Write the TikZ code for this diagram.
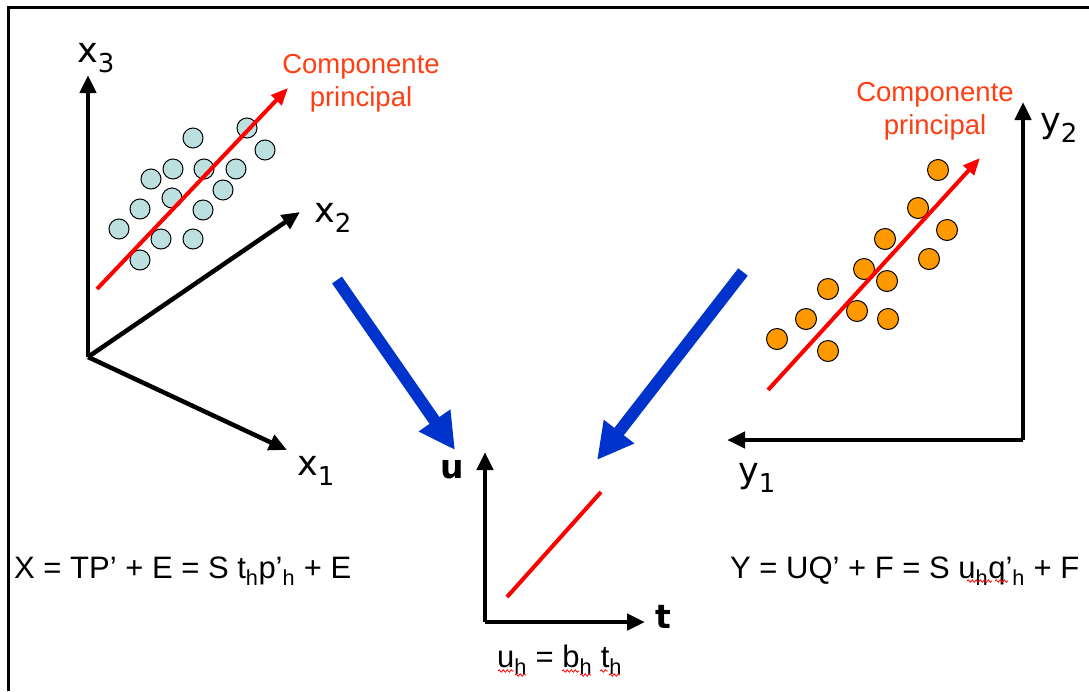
\documentclass[tikz,border=0pt]{standalone}
\usepackage{fontspec}
\setmainfont{Liberation Sans}
\newfontfamily\labfont{DejaVu Sans}
\usetikzlibrary{positioning,arrows.meta,decorations.pathmorphing}

\definecolor{pcred}{RGB}{255,62,20}
\definecolor{dotcyan}{RGB}{188,224,224}
\definecolor{dotorange}{RGB}{255,153,0}
\definecolor{bigblue}{RGB}{0,51,204}

% axis label with lowered index
\newcommand{\axlab}[2]{#1\raisebox{-10pt}{\fontsize{26}{26}\selectfont #2}}

\begin{document}
\begin{tikzpicture}[x=1pt, y=-1pt,
    axis/.style={line width=4.5pt, -{Triangle[length=18pt,width=16pt]}},
    pc/.style={draw=red, line width=4pt, -{Triangle[length=17pt,width=14pt]}},
    bigarrow/.style={draw=bigblue, line width=12pt, -{Triangle[length=36pt,width=36pt]}},
    cdot/.style={circle, draw, line width=1pt, inner sep=0pt, minimum size=20pt, fill=dotcyan},
    odot/.style={circle, draw, line width=1pt, inner sep=0pt, minimum size=21pt, fill=dotorange},
    axlabel/.style={anchor=base west, inner sep=0pt, font=\labfont\fontsize{35}{35}\selectfont},
    pctext/.style={align=center, text=pcred, inner sep=0pt, font=\fontsize{27.5}{33}\selectfont},
    eq/.style={anchor=base west, inner sep=0pt, font=\fontsize{31}{31}\selectfont},
    squig/.style={draw=red, line width=0.8pt, decorate, decoration={snake, amplitude=1.2pt, segment length=4pt}}]
    \useasboundingbox (0,0) rectangle (1089,691);
    \fill[white] (0,0) rectangle (1089,691);
    \draw[line width=3pt] (8,691) -- (8,7) -- (1089,7);

    % X block
    \coordinate (oX) at (88,357);
    \coordinate (x1tip) at (287,450);
    \coordinate (x2tip) at (300,212);
    \coordinate (x3tip) at (88,75);
    \draw[axis] (oX) -- (x1tip);
    \draw[axis] (oX) -- (x2tip);
    \draw[axis] (oX) -- (x3tip);
    \node[axlabel] (lblx1) at (297,475) {\axlab{x}{1}};
    \node[axlabel] (lblx2) at (314,222) {\axlab{x}{2}};
    \node[axlabel] (lblx3) at (77,62) {\axlab{x}{3}};
    \foreach \px/\py [count=\i] in {193/138, 247/128, 265/150, 173/169, 204/169, 236/169,
        151/179, 223/190, 172/198, 140/209, 203/210, 119/229, 161/239, 193/239, 140/260}
      \node[cdot] (c\i) at (\px,\py) {};
    \coordinate (pcX0) at (97,289);
    \coordinate (pcX1) at (288,88);
    \draw[pc] (pcX0) -- (pcX1);
    \node[pctext] (pcleft) at (361,83) {Componente\\principal};

    % Y block
    \coordinate (oY) at (1023,440);
    \coordinate (y1tip) at (727,440);
    \coordinate (y2tip) at (1023,102);
    \draw[axis] (oY) -- (y1tip);
    \draw[axis] (oY) -- (y2tip);
    \node[axlabel] (lbly1) at (738,482) {\axlab{y}{1}};
    \node[axlabel] (lbly2) at (1040,132) {\axlab{y}{2}};
    \foreach \px/\py [count=\i] in {938/170, 918/208, 947/230, 885/239, 929/259, 864/269, 887/281,
        828/289, 857/311, 888/319, 806/319, 777/339, 828/351}
      \node[odot] (o\i) at (\px,\py) {};
    \coordinate (pcY0) at (768,390);
    \coordinate (pcY1) at (980,158);
    \draw[pc] (pcY0) -- (pcY1);
    \node[pctext] (pcright) at (935,111) {Componente\\principal};

    % inner relation
    \coordinate (oU) at (485,622);
    \coordinate (utip) at (485,452);
    \coordinate (ttip) at (645,622);
    \draw[axis] (oU) -- (utip);
    \draw[axis] (oU) -- (ttip);
    \node[axlabel, font=\labfont\bfseries\fontsize{33}{33}\selectfont] (lblu) at (440,478) {u};
    \node[axlabel, font=\labfont\bfseries\fontsize{33}{33}\selectfont] (lblt) at (655,628) {t};
    \coordinate (fit0) at (507,597);
    \coordinate (fit1) at (601,492);
    \draw[red, line width=4pt] (fit0) -- (fit1);

    % blue arrows
    \coordinate (bX0) at (337,280);
    \coordinate (bX1) at (455,450);
    \coordinate (bY0) at (743,272);
    \coordinate (bY1) at (597,460);
    \draw[bigarrow] (bX0) -- (bX1);
    \draw[bigarrow] (bY0) -- (bY1);

    % formulas
    \node[eq] (eqX) at (14,578) {X = TP’ + E = S t\textsubscript{h}p’\textsubscript{h} + E};
    \node[eq] (eqY) at (730,578) {Y = UQ’ + F = S u\textsubscript{h}q’\textsubscript{h} + F};
    \node[eq] (eqU) at (497,667) {u\textsubscript{h} = b\textsubscript{h} t\textsubscript{h}};
    \draw[squig] (498,671) -- (514,671);
    \draw[squig] (515,675) -- (526,675);
    \draw[squig] (562,671) -- (579,671);
    \draw[squig] (580,675) -- (591,675);
    \draw[squig] (600,671) -- (608,671);
    \draw[squig] (609,675) -- (620,675);
    \draw[squig] (967,581) -- (992,581);
    \draw[squig] (995,581) -- (1008,581);
  \end{tikzpicture}
\end{document}
